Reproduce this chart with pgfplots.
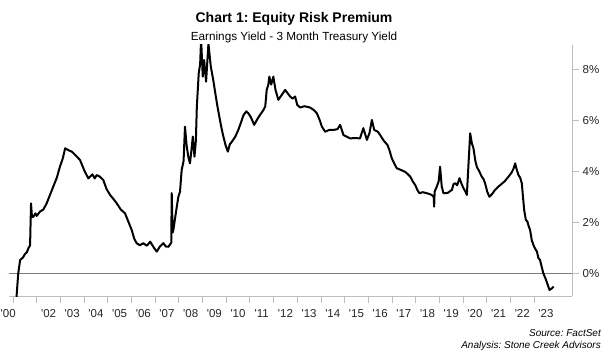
\documentclass[border=0pt]{standalone}
\usepackage{fontspec}
\setmainfont{Liberation Sans}
\usepackage{pgfplots}
\pgfplotsset{compat=1.18}
\definecolor{zeroblue}{RGB}{20,158,214}
\definecolor{axgray}{RGB}{190,190,190}
\frenchspacing
\begin{document}
\begin{tikzpicture}[x=1bp,y=1bp]
\useasboundingbox (0,0) rectangle (611,358);
\begin{axis}[
  at={(9bp,62bp)}, anchor=south west,
  scale only axis, width=563bp, height=251bp,
  xmin=2000.83, xmax=2024.6, ymin=-0.89, ymax=8.95,
  axis x line*=bottom, axis y line*=right,
  axis line style={axgray, line width=0.8bp, -},
  tick align=outside,
  major tick length=7bp,
  tick style={axgray, line width=0.8bp},
  xtick={2001,...,2023}, xticklabels={},
  extra x ticks={2002.5,2003.5,2004.5,2005.5,2006.5,2007.5,2008.5,2009.5,2010.5,2011.5,2012.5,2013.5,2014.5,2015.5,2016.5,2017.5,2018.5,2019.5,2020.5,2021.5,2022.5,2023.5},
  extra x tick labels={\textquotesingle02,\textquotesingle03,\textquotesingle04,\textquotesingle05,\textquotesingle06,\textquotesingle07,\textquotesingle08,\textquotesingle09,\textquotesingle10,\textquotesingle11,\textquotesingle12,\textquotesingle13,\textquotesingle14,\textquotesingle15,\textquotesingle16,\textquotesingle17,\textquotesingle18,\textquotesingle19,\textquotesingle20,\textquotesingle21,\textquotesingle22,\textquotesingle23},
  extra x tick style={major tick length=0pt, xticklabel style={anchor=base, yshift=-21bp}},
  ytick={0,2,4,6,8},
  yticklabels={0\%,2\%,4\%,6\%,8\%},
  yticklabel style={anchor=west, inner sep=0pt, xshift=3.5bp},
  ticklabel style={font=\fontsize{11.5bp}{13bp}\selectfont, text=black!85},
  clip=true,
]
\addplot[zeroblue, line width=0.8bp] coordinates {(2000.83,0) (2024.6,0)};
\addplot[black, line width=2bp, line join=round] table {
x y
2001.10 -1.5
2001.15 -0.9
2001.22 0.0
2001.30 0.52
2001.42 0.62
2001.50 0.75
2001.58 0.82
2001.65 0.98
2001.72 1.10
2001.76 2.74
2001.80 2.20
2001.86 2.22
2001.95 2.35
2002.00 2.25
2002.14 2.42
2002.28 2.50
2002.42 2.74
2002.55 3.05
2002.70 3.40
2002.85 3.75
2002.98 4.18
2003.10 4.50
2003.20 4.90
2003.35 4.82
2003.48 4.77
2003.65 4.62
2003.83 4.44
2004.00 4.05
2004.18 3.72
2004.35 3.88
2004.45 3.72
2004.53 3.85
2004.65 3.80
2004.81 3.66
2004.95 3.30
2005.10 3.07
2005.25 2.90
2005.38 2.74
2005.55 2.50
2005.73 2.35
2005.88 2.00
2006.01 1.70
2006.12 1.35
2006.22 1.18
2006.35 1.10
2006.50 1.18
2006.65 1.08
2006.79 1.24
2006.95 1.00
2007.07 0.85
2007.20 1.05
2007.35 1.18
2007.45 1.05
2007.56 1.04
2007.68 1.20
2007.70 3.14
2007.74 1.60
2007.77 1.70
2007.88 2.40
2007.98 3.00
2008.05 3.20
2008.12 4.05
2008.20 4.40
2008.26 5.75
2008.33 5.00
2008.40 4.57
2008.47 4.31
2008.53 4.80
2008.59 5.36
2008.66 4.57
2008.72 5.20
2008.76 6.53
2008.84 7.84
2008.90 8.20
2008.94 9.20
2009.01 7.71
2009.07 8.36
2009.15 7.51
2009.25 9.00
2009.35 8.10
2009.45 7.60
2009.53 7.12
2009.62 6.60
2009.71 6.14
2009.80 5.70
2009.88 5.36
2009.98 5.00
2010.07 4.77
2010.15 5.05
2010.24 5.16
2010.38 5.35
2010.51 5.62
2010.62 5.90
2010.73 6.20
2010.85 6.35
2010.94 6.27
2011.05 6.10
2011.18 5.82
2011.35 6.10
2011.57 6.40
2011.65 6.55
2011.71 7.19
2011.78 7.40
2011.82 7.71
2011.90 7.40
2011.99 7.71
2012.08 7.20
2012.20 6.80
2012.35 7.00
2012.49 7.19
2012.60 7.05
2012.70 6.93
2012.80 6.85
2012.91 6.93
2013.00 6.60
2013.12 6.50
2013.30 6.55
2013.54 6.50
2013.70 6.40
2013.83 6.27
2013.95 6.00
2014.04 5.75
2014.18 5.55
2014.35 5.62
2014.53 5.62
2014.70 5.65
2014.81 5.82
2014.95 5.42
2015.10 5.35
2015.23 5.29
2015.45 5.30
2015.65 5.29
2015.79 5.69
2015.94 5.23
2016.05 5.50
2016.15 6.01
2016.25 5.62
2016.40 5.55
2016.50 5.42
2016.65 5.20
2016.81 5.03
2016.90 4.80
2016.99 4.51
2017.10 4.30
2017.20 4.12
2017.38 4.05
2017.55 3.98
2017.65 3.90
2017.77 3.79
2017.88 3.60
2017.98 3.46
2018.08 3.25
2018.16 3.14
2018.30 3.18
2018.47 3.14
2018.60 3.10
2018.68 3.07
2018.76 3.00
2018.78 2.61
2018.80 3.20
2018.89 3.40
2018.97 3.60
2019.03 4.18
2019.10 3.40
2019.17 3.14
2019.35 3.15
2019.53 3.27
2019.60 3.50
2019.67 3.53
2019.75 3.45
2019.85 3.73
2019.94 3.50
2020.02 3.33
2020.10 3.20
2020.16 3.07
2020.30 5.49
2020.37 5.10
2020.44 4.90
2020.52 4.40
2020.58 4.18
2020.68 4.00
2020.79 3.79
2020.86 3.70
2020.93 3.53
2021.02 3.20
2021.11 3.00
2021.22 3.10
2021.35 3.27
2021.47 3.38
2021.57 3.46
2021.75 3.60
2021.92 3.79
2022.05 3.95
2022.13 4.10
2022.20 4.31
2022.27 4.05
2022.34 3.85
2022.41 3.75
2022.48 3.53
2022.53 3.00
2022.58 2.48
2022.65 2.10
2022.72 2.02
2022.77 1.85
2022.83 1.70
2022.90 1.30
2022.97 1.11
2023.05 0.95
2023.12 0.85
2023.18 0.60
2023.25 0.52
2023.32 0.25
2023.39 0.00
2023.50 -0.25
2023.60 -0.52
2023.65 -0.65
2023.74 -0.60
2023.82 -0.52
};
\end{axis}
\node[anchor=base west, inner sep=0pt, font=\fontsize{11.5bp}{13bp}\selectfont, text=black!85] at (0.5,41) {\textquotesingle00};
\node[anchor=base, inner sep=0pt, font=\bfseries\fontsize{14bp}{16bp}\selectfont] at (294,335.3) {Chart 1: Equity Risk Premium};
\node[anchor=base, inner sep=0pt, font=\fontsize{11.75bp}{14bp}\selectfont] at (294,318) {Earnings Yield - 3 Month Treasury Yield};
\node[anchor=base east, inner sep=0pt, font=\itshape\fontsize{10bp}{12bp}\selectfont] at (601,21.3) {Source: FactSet};
\node[anchor=base east, inner sep=0pt, font=\itshape\fontsize{10bp}{12bp}\selectfont] at (601,9.7) {Analysis: Stone Creek Advisors};
\end{tikzpicture}
\end{document}
